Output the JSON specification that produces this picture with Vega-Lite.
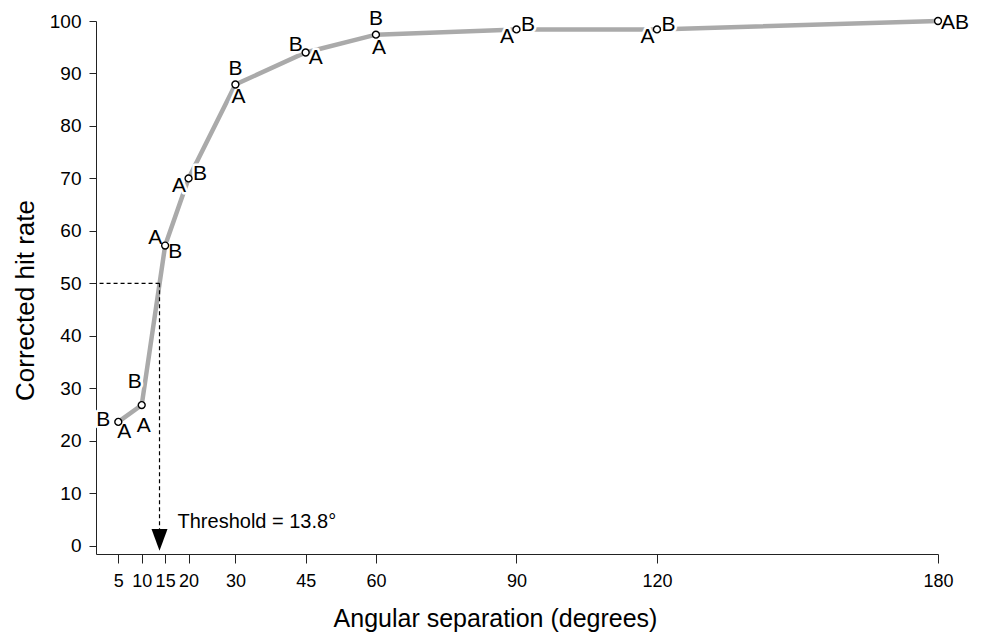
{
  "$schema": "https://vega.github.io/schema/vega-lite/v6.json",
  "width": 842,
  "height": 533,
  "autosize": {"type": "none"},
  "padding": {"left": 96, "top": 21, "right": 43, "bottom": 82},
  "config": {
    "view": {"stroke": null},
    "font": "Liberation Sans",
    "axis": {
      "grid": false,
      "domainColor": "#222222",
      "tickColor": "#222222",
      "labelColor": "#000000",
      "titleColor": "#000000",
      "labelFont": "Liberation Sans",
      "titleFont": "Liberation Sans",
      "titleFontWeight": "normal",
      "labelFlush": false,
      "labelOverlap": false,
      "labelBound": false
    }
  },
  "datasets": {
    "points": [
      {"angle": 5, "rate": 23.6},
      {"angle": 10, "rate": 26.8},
      {"angle": 15, "rate": 57.2},
      {"angle": 20, "rate": 70.0},
      {"angle": 30, "rate": 87.9},
      {"angle": 45, "rate": 94.0},
      {"angle": 60, "rate": 97.4},
      {"angle": 90, "rate": 98.4},
      {"angle": 120, "rate": 98.4},
      {"angle": 180, "rate": 100}
    ],
    "labels": [
      {"angle": 5, "rate": 23.6, "label": "B", "pos": "left"},
      {"angle": 5, "rate": 23.6, "label": "A", "pos": "belowright"},
      {"angle": 10, "rate": 26.8, "label": "B", "pos": "farup"},
      {"angle": 10, "rate": 26.8, "label": "A", "pos": "fardown"},
      {"angle": 15, "rate": 57.2, "label": "A", "pos": "upleft"},
      {"angle": 15, "rate": 57.2, "label": "B", "pos": "lowright"},
      {"angle": 20, "rate": 70.0, "label": "A", "pos": "lowleft"},
      {"angle": 20, "rate": 70.0, "label": "B", "pos": "upright"},
      {"angle": 30, "rate": 87.9, "label": "B", "pos": "above"},
      {"angle": 30, "rate": 87.9, "label": "A", "pos": "below"},
      {"angle": 45, "rate": 94.0, "label": "B", "pos": "upleft"},
      {"angle": 45, "rate": 94.0, "label": "A", "pos": "lowright"},
      {"angle": 60, "rate": 97.4, "label": "B", "pos": "above"},
      {"angle": 60, "rate": 97.4, "label": "A", "pos": "below"},
      {"angle": 90, "rate": 98.4, "label": "A", "pos": "lowleft"},
      {"angle": 90, "rate": 98.4, "label": "B", "pos": "upright"},
      {"angle": 120, "rate": 98.4, "label": "A", "pos": "lowleft"},
      {"angle": 120, "rate": 98.4, "label": "B", "pos": "upright"},
      {"angle": 180, "rate": 100, "label": "AB", "pos": "right"}
    ]
  },
  "encoding": {
    "x": {
      "field": "angle",
      "type": "quantitative",
      "scale": {"domain": [0.24, 180], "nice": false, "zero": false},
      "axis": {
        "values": [5, 10, 15, 20, 30, 45, 60, 90, 120, 180],
        "labelFontSize": 18,
        "tickSize": 9,
        "labelPadding": 9,
        "title": "Angular separation (degrees)",
        "titleFontSize": 25,
        "titleX": 399,
        "titleY": 72,
        "titleAlign": "center",
        "titleBaseline": "alphabetic"
      }
    },
    "y": {
      "field": "rate",
      "type": "quantitative",
      "scale": {"domain": [-1.58, 100], "nice": false, "zero": false},
      "axis": {
        "values": [0, 10, 20, 30, 40, 50, 60, 70, 80, 90, 100],
        "labelFontSize": 19,
        "tickSize": 7,
        "labelPadding": 8,
        "title": "Corrected hit rate",
        "titleFontSize": 26,
        "titleX": -63,
        "titleY": 279,
        "titleAlign": "center",
        "titleBaseline": "alphabetic",
        "titleAngle": 270
      }
    }
  },
  "layer": [
    {
      "data": {"name": "points"},
      "mark": {"type": "line", "color": "#aaaaaa", "strokeWidth": 4.5}
    },
    {
      "data": {"values": [{"angle": 1, "angle_end": 13.8, "rate": 50}]},
      "mark": {"type": "rule", "color": "#000000", "strokeWidth": 1.2, "strokeDash": [4, 3]},
      "encoding": {"x2": {"field": "angle_end"}}
    },
    {
      "data": {"values": [{"angle": 13.8, "rate": 50, "rate_end": 3.2}]},
      "mark": {"type": "rule", "color": "#000000", "strokeWidth": 1.2, "strokeDash": [4, 3]},
      "encoding": {"y2": {"field": "rate_end"}}
    },
    {
      "data": {"values": [{"angle": 13.8, "rate": 1.1}]},
      "mark": {"type": "point", "shape": "M-0.737,-1L0.737,-1L0,1Z", "size": 471, "filled": true, "color": "#000000", "opacity": 1, "strokeWidth": 0}
    },
    {
      "data": {"values": [{"angle": 13.8, "rate": 4.5, "text": "Threshold = 13.8°"}]},
      "mark": {"type": "text", "align": "left", "baseline": "middle", "dx": 18, "fontSize": 20, "color": "#000000"},
      "encoding": {"text": {"field": "text"}}
    },
    {
      "data": {"name": "labels"},
      "mark": {
        "type": "text",
        "align": "center",
        "baseline": "middle",
        "fontSize": 21,
        "fill": "#ffffff",
        "stroke": "#ffffff",
        "strokeWidth": 5,
        "strokeJoin": "round",
        "dx": {"expr": "[0,3,-10,10,-9.5,11.5,-15,6,-7,2,17][indexof(['above','below','upleft','lowright','lowleft','upright','left','belowright','farup','fardown','right'], datum.pos)]"},
        "dy": {"expr": "[-15.5,13,-7.5,6,8,-4.5,-2,10,-23,21,2][indexof(['above','below','upleft','lowright','lowleft','upright','left','belowright','farup','fardown','right'], datum.pos)]"}
      },
      "encoding": {"text": {"field": "label"}}
    },
    {
      "data": {"name": "points"},
      "mark": {"type": "point", "shape": "circle", "size": 48, "filled": false, "fill": "#ffffff", "stroke": "#000000", "strokeWidth": 1.4, "opacity": 1}
    },
    {
      "data": {"name": "labels"},
      "mark": {
        "type": "text",
        "align": "center",
        "baseline": "middle",
        "fontSize": 21,
        "color": "#000000",
        "dx": {"expr": "[0,3,-10,10,-9.5,11.5,-15,6,-7,2,17][indexof(['above','below','upleft','lowright','lowleft','upright','left','belowright','farup','fardown','right'], datum.pos)]"},
        "dy": {"expr": "[-15.5,13,-7.5,6,8,-4.5,-2,10,-23,21,2][indexof(['above','below','upleft','lowright','lowleft','upright','left','belowright','farup','fardown','right'], datum.pos)]"}
      },
      "encoding": {"text": {"field": "label"}}
    }
  ]
}
